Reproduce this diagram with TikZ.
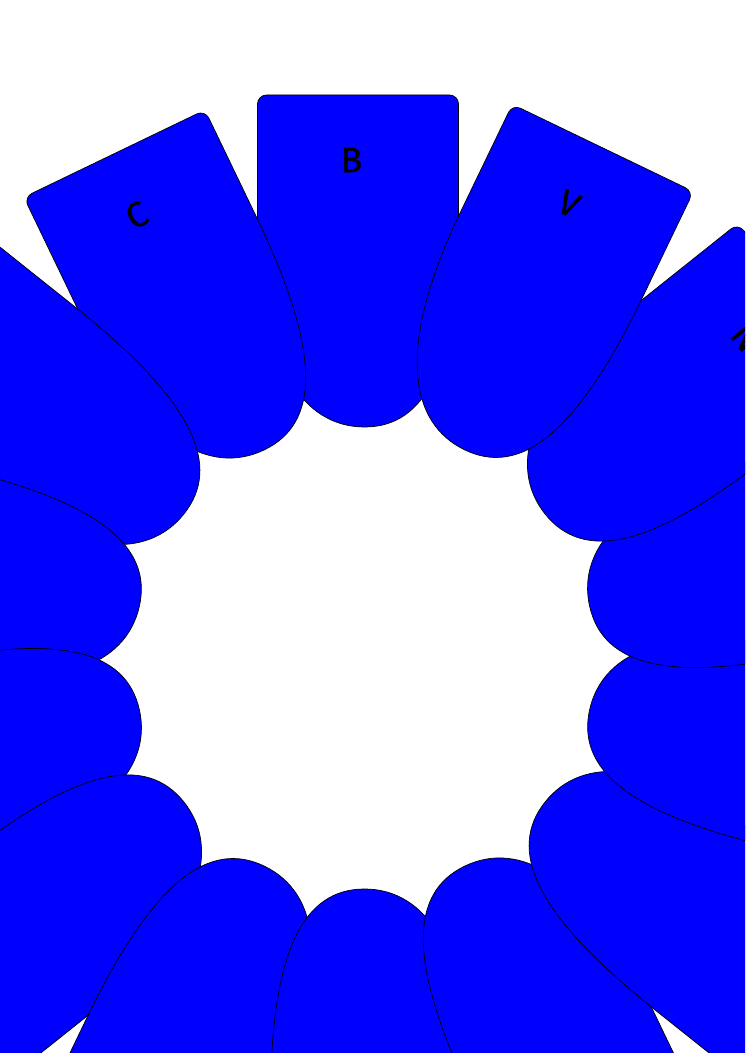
\documentclass[tikz,border=0pt]{standalone}
\usepackage{fontspec}
\setmainfont{Fira Sans}
\newfontfamily\lblfont[FakeBold=1.2]{Fira Sans}
\definecolor{petalblue}{RGB}{0,0,255}
\begin{document}
\begin{tikzpicture}[x=1pt,y=1pt,
  petal/.style={fill=petalblue, draw=black, line width=0.7pt},
  lbl/.style={font=\lblfont\fontsize{35}{35}\selectfont, text=black, inner sep=0pt, transform shape}]
\useasboundingbox (0,0) rectangle (745,1053);
\clip (0,0) rectangle (745,1053);
\coordinate (O) at (364.5,395);
\foreach \k in {0,...,13}{
  \begin{scope}[shift={(O)}, rotate=\k*360/14]
    \path[petal] (-107,445) -- (-107,554) arc[start angle=180,end angle=90,radius=9]
      -- (85,563) arc[start angle=90,end angle=0,radius=9]
      -- (94,445) .. controls (94,290) and (60,231) .. (0,231)
      .. controls (-60,231) and (-107,290) .. (-107,445) -- cycle;
  \end{scope}
}
\begin{scope}[shift={(O)}]
  \node[lbl] (lB) at (-13,498) {B};
\end{scope}
\begin{scope}[shift={(O)}, rotate=360/14]
  \node[lbl] (lC) at (-13,498) {C};
\end{scope}
\begin{scope}[shift={(O)}, rotate=-2*360/14]
  \node[lbl] (lN) at (-13,498) {N};
\end{scope}
\begin{scope}[shift={(O)}, rotate=-360/14]
  \node[lbl] (lV) at (-13,498) {V};
\end{scope}
\end{tikzpicture}
\end{document}
